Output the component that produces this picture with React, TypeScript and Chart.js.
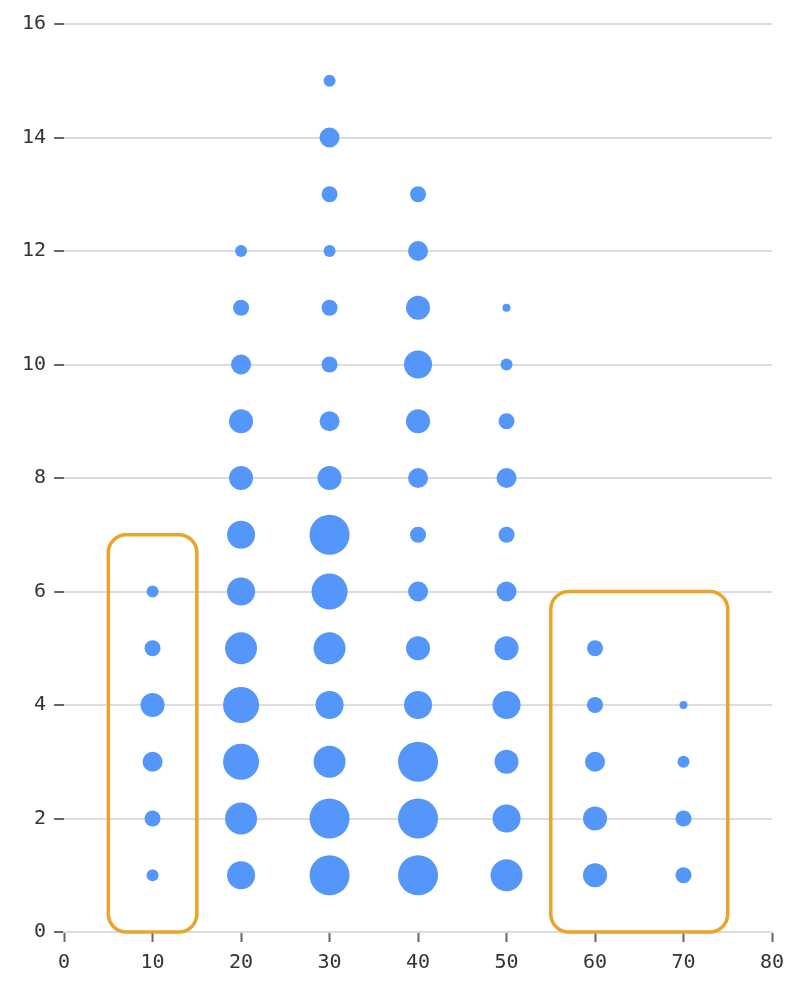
import React, { useEffect, useRef } from "react";
import { Chart, registerables } from "chart.js";

Chart.register(...registerables);

// Bubble columns: x value, and radius for y = 1, 2, 3, ...
const columnX = [10, 20, 30, 40, 50, 60, 70];
const col10 = [6, 8, 10, 12, 8, 6];
const col20 = [14, 16, 18, 18, 16, 14, 14, 12, 12, 10, 8, 6];
const col30 = [20, 20, 16, 14, 16, 18, 20, 12, 10, 8, 8, 6, 8, 10, 6];
const col40 = [20, 20, 20, 14, 12, 10, 8, 10, 12, 14, 12, 10, 8];
const col50 = [16, 14, 12, 14, 12, 10, 8, 10, 8, 6, 4];
const col60 = [12, 12, 10, 8, 8];
const col70 = [8, 8, 6, 4];
const columnSizes = [col10, col20, col30, col40, col50, col60, col70];

// Highlight boxes: [xMin, xMax, yMin, yMax]
const box1 = [5, 15, 0, 7];
const box2 = [55, 75, 0, 6];
const boxes = [box1, box2];

const xTicks = [0, 80, 10];
const yTicks = [0, 16, 2];

const BUBBLE = "rgb(84,150,250)";
const BOX = "#E9A42B";
const FONT = "'DejaVu Sans Mono', monospace";

const boxPlugin = {
  id: "boxes",
  afterDatasetsDraw(chart: any) {
    const { ctx, scales } = chart;
    const xs = scales.x;
    const ys = scales.y;
    ctx.save();
    ctx.strokeStyle = BOX;
    ctx.lineWidth = 3.5;
    for (const b of boxes) {
      const l = xs.getPixelForValue(b[0]);
      const r = xs.getPixelForValue(b[1]);
      const bot = ys.getPixelForValue(b[2]);
      const t = ys.getPixelForValue(b[3]);
      ctx.beginPath();
      ctx.roundRect(l, t, r - l, bot - t, 18);
      ctx.stroke();
    }
    ctx.restore();
  },
};

export default function App() {
  const ref = useRef<HTMLCanvasElement>(null);
  useEffect(() => {
    const data: { x: number; y: number; r: number }[] = [];
    columnX.forEach((x, i) => {
      columnSizes[i].forEach((r, j) => data.push({ x, y: j + 1, r }));
    });
    const chart = new Chart(ref.current!, {
      type: "bubble",
      data: {
        datasets: [
          {
            data,
            backgroundColor: BUBBLE,
            borderWidth: 0,
            hoverRadius: 0,
          },
        ],
      },
      plugins: [boxPlugin],
      options: {
        animation: false,
        responsive: true,
        maintainAspectRatio: false,
        layout: { padding: { top: 1, right: 26, left: 6, bottom: 0 } },
        plugins: { legend: { display: false }, tooltip: { enabled: false } },
        scales: {
          x: {
            type: "linear",
            min: xTicks[0],
            max: xTicks[1],
            ticks: { stepSize: xTicks[2], color: "#333", font: { family: FONT, size: 20 }, padding: 9 },
            grid: { drawOnChartArea: false, drawTicks: true, tickLength: 10, tickColor: "#666", tickWidth: 2 },
            border: { display: true, color: "#ddd", width: 2 },
          },
          y: {
            type: "linear",
            min: yTicks[0],
            max: yTicks[1],
            ticks: { stepSize: yTicks[2], color: "#333", font: { family: FONT, size: 20 }, padding: 8 },
            grid: { color: "#ddd", lineWidth: 2, tickLength: 10, tickColor: "#666", tickWidth: 2 },
            border: { display: false },
          },
        },
      },
    });
    return () => chart.destroy();
  }, []);
  return (
    <div style={{ width: 790, height: 980, marginTop: -4, position: "relative" }}>
      <canvas ref={ref} />
    </div>
  );
}
